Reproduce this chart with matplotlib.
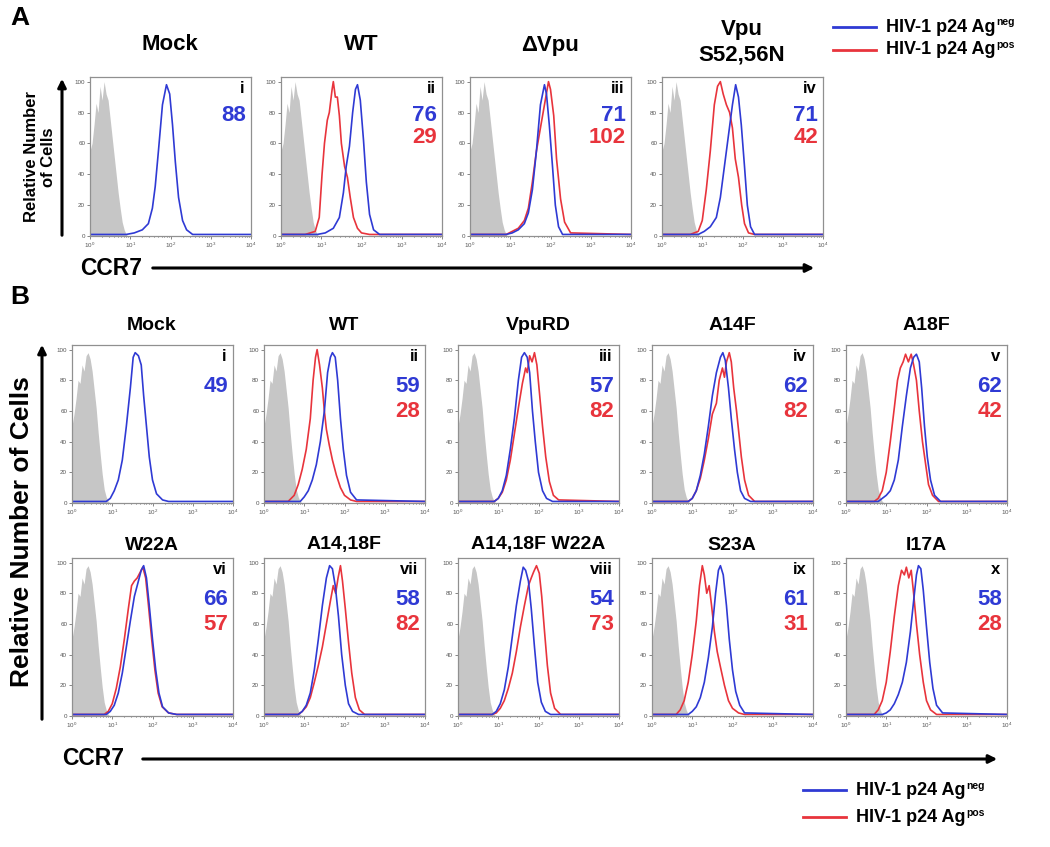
import numpy as np
import matplotlib
matplotlib.use('Agg')
from matplotlib import pyplot as plt
from matplotlib.lines import Line2D
from matplotlib.patches import FancyArrowPatch

plt.rcParams['font.family'] = ['Liberation Sans', 'DejaVu Sans']
plt.rcParams['mathtext.fontset'] = 'custom'
plt.rcParams['mathtext.rm'] = 'Liberation Sans'
plt.rcParams['mathtext.bf'] = 'Liberation Sans:bold'

BLUE = '#2f3ad4'
RED = '#e8343c'
GREY = '#c6c6c6'

# histogram curves: (log10 CCR7, relative number of cells)
ISO_A = [(0, 55), (0.05, 60), (0.1, 72), (0.15, 86), (0.2, 80), (0.25, 97), (0.3, 88), (0.35, 100), (0.4, 92),
         (0.45, 88), (0.5, 76), (0.55, 64), (0.6, 52), (0.65, 40), (0.7, 28), (0.75, 18), (0.8, 9), (0.85, 4),
         (0.9, 1), (0.95, 0)]
ISO_B = [(0, 50), (0.05, 58), (0.1, 68), (0.15, 80), (0.2, 78), (0.25, 90), (0.3, 86), (0.35, 96), (0.4, 98),
         (0.45, 94), (0.5, 86), (0.55, 74), (0.6, 62), (0.65, 46), (0.7, 32), (0.75, 19), (0.8, 9), (0.85, 4),
         (0.9, 1), (0.95, 0)]

A_MOCK_NEG = [(0, 1), (0.9, 1), (1.1, 2), (1.3, 4), (1.45, 8), (1.55, 18), (1.62, 32), (1.7, 55), (1.8, 85),
              (1.9, 98), (1.98, 92), (2.05, 72), (2.12, 48), (2.2, 25), (2.3, 10), (2.4, 4), (2.55, 1), (4, 1)]
A_WT_NEG = [(0, 1), (0.9, 1), (1.1, 2), (1.3, 5), (1.45, 12), (1.55, 28), (1.62, 45), (1.7, 58), (1.78, 80),
            (1.85, 95), (1.9, 98), (1.97, 88), (2.05, 62), (2.12, 35), (2.2, 14), (2.3, 4), (2.45, 1), (4, 1)]
A_WT_POS = [(0, 1), (0.6, 1), (0.85, 3), (0.95, 12), (1.02, 40), (1.08, 60), (1.15, 75), (1.2, 80), (1.27, 95),
            (1.3, 100), (1.35, 90), (1.4, 90), (1.45, 78), (1.5, 60), (1.58, 45), (1.65, 38), (1.72, 25),
            (1.8, 12), (1.9, 5), (2.0, 2), (2.2, 1), (4, 1)]
A_DVPU_NEG = [(0, 1), (0.9, 1), (1.05, 2), (1.2, 4), (1.35, 8), (1.45, 15), (1.55, 30), (1.65, 55), (1.75, 85),
              (1.85, 98), (1.9, 92), (1.97, 72), (2.05, 45), (2.12, 20), (2.2, 6), (2.3, 1), (4, 1)]
A_DVPU_POS = [(0, 1), (0.9, 1), (1.05, 3), (1.2, 5), (1.35, 10), (1.45, 18), (1.55, 35), (1.65, 55), (1.75, 70),
              (1.85, 85), (1.95, 100), (2.0, 95), (2.08, 78), (2.15, 50), (2.25, 24), (2.35, 9), (2.5, 2), (4, 1)]
A_S52_NEG = [(0, 1), (0.9, 1), (1.05, 3), (1.2, 6), (1.35, 12), (1.45, 25), (1.55, 45), (1.65, 65), (1.75, 85),
             (1.83, 98), (1.9, 90), (1.97, 72), (2.05, 45), (2.12, 20), (2.2, 6), (2.3, 1), (4, 1)]
A_S52_POS = [(0, 1), (0.7, 1), (0.9, 3), (1.0, 10), (1.1, 30), (1.2, 55), (1.3, 85), (1.38, 97), (1.45, 100),
             (1.52, 92), (1.6, 85), (1.68, 80), (1.75, 70), (1.82, 50), (1.9, 38), (1.98, 20), (2.05, 8),
             (2.15, 2), (2.3, 1), (4, 1)]

B_MOCK_NEG = [(0, 1), (0.85, 1), (0.95, 3), (1.05, 8), (1.15, 15), (1.25, 28), (1.35, 50), (1.45, 75), (1.52, 95),
              (1.57, 98), (1.65, 96), (1.72, 90), (1.78, 70), (1.85, 50), (1.92, 30), (2.0, 15), (2.1, 6),
              (2.25, 2), (2.4, 1), (4, 1)]
B_WT_NEG = [(0, 1), (0.9, 1), (1.0, 4), (1.1, 8), (1.2, 15), (1.3, 25), (1.4, 40), (1.5, 60), (1.58, 85),
            (1.65, 95), (1.7, 98), (1.77, 95), (1.83, 80), (1.9, 55), (1.97, 35), (2.05, 18), (2.15, 7),
            (2.3, 2), (4, 1)]
B_WT_POS = [(0, 1), (0.6, 1), (0.75, 5), (0.85, 12), (0.95, 22), (1.05, 35), (1.15, 55), (1.22, 80), (1.28, 95),
            (1.32, 100), (1.38, 90), (1.45, 75), (1.5, 60), (1.55, 48), (1.62, 38), (1.7, 28), (1.8, 18),
            (1.9, 10), (2.0, 5), (2.15, 2), (2.3, 1), (4, 1)]
B_VPURD_NEG = [(0, 1), (0.9, 1), (1.0, 3), (1.1, 8), (1.2, 18), (1.3, 35), (1.4, 55), (1.5, 80), (1.58, 95),
               (1.65, 98), (1.72, 95), (1.78, 85), (1.85, 60), (1.92, 40), (2.0, 20), (2.1, 8), (2.2, 3),
               (2.35, 1), (4, 1)]
B_VPURD_POS = [(0, 1), (0.9, 1), (1.0, 3), (1.1, 7), (1.2, 15), (1.3, 28), (1.4, 45), (1.5, 62), (1.6, 78),
               (1.68, 88), (1.72, 85), (1.78, 96), (1.84, 92), (1.9, 98), (1.96, 90), (2.03, 70), (2.1, 50),
               (2.18, 30), (2.27, 14), (2.37, 5), (2.5, 2), (4, 1)]
B_A14F_NEG = [(0, 1), (0.9, 1), (1.0, 3), (1.1, 8), (1.2, 18), (1.3, 32), (1.4, 50), (1.5, 70), (1.6, 85),
              (1.7, 95), (1.76, 98), (1.82, 93), (1.9, 75), (1.97, 55), (2.05, 35), (2.12, 20), (2.2, 8),
              (2.3, 3), (2.45, 1), (4, 1)]
B_A14F_POS = [(0, 1), (0.9, 1), (1.0, 3), (1.1, 8), (1.2, 16), (1.3, 28), (1.4, 42), (1.5, 58), (1.6, 65),
              (1.67, 80), (1.75, 88), (1.8, 82), (1.85, 92), (1.92, 98), (1.97, 92), (2.03, 75), (2.1, 60),
              (2.16, 45), (2.22, 30), (2.3, 15), (2.4, 5), (2.55, 1), (4, 1)]
B_A18F_NEG = [(0, 1), (0.8, 1), (0.9, 3), (1.0, 5), (1.1, 8), (1.2, 15), (1.3, 28), (1.4, 50), (1.5, 70),
              (1.6, 88), (1.68, 95), (1.75, 97), (1.82, 92), (1.88, 75), (1.95, 50), (2.02, 30), (2.1, 15),
              (2.2, 5), (2.35, 1), (4, 1)]
B_A18F_POS = [(0, 1), (0.7, 1), (0.8, 3), (0.9, 8), (1.0, 20), (1.1, 40), (1.2, 62), (1.28, 80), (1.35, 88),
              (1.42, 92), (1.48, 97), (1.55, 92), (1.62, 97), (1.68, 90), (1.75, 80), (1.82, 60), (1.9, 40),
              (1.98, 25), (2.05, 12), (2.15, 5), (2.3, 1), (4, 1)]
B_W22A_NEG = [(0, 1), (0.85, 1), (0.95, 3), (1.05, 7), (1.15, 15), (1.25, 28), (1.35, 45), (1.45, 62),
              (1.55, 78), (1.65, 88), (1.72, 95), (1.78, 98), (1.85, 90), (1.92, 72), (2.0, 50), (2.08, 30),
              (2.16, 15), (2.25, 6), (2.4, 2), (2.6, 1), (4, 1)]
B_W22A_POS = [(0, 1), (0.8, 1), (0.9, 3), (1.0, 8), (1.1, 18), (1.2, 32), (1.3, 50), (1.4, 70), (1.48, 85),
              (1.55, 88), (1.62, 90), (1.7, 94), (1.76, 97), (1.83, 90), (1.9, 72), (1.98, 50), (2.06, 30),
              (2.14, 15), (2.24, 6), (2.4, 2), (2.6, 1), (4, 1)]
B_A1418F_NEG = [(0, 1), (0.85, 1), (0.95, 3), (1.05, 7), (1.15, 15), (1.25, 30), (1.35, 50), (1.45, 72),
                (1.55, 90), (1.63, 98), (1.7, 96), (1.77, 85), (1.85, 65), (1.93, 40), (2.02, 20), (2.1, 8),
                (2.2, 3), (2.35, 1), (4, 1)]
B_A1418F_POS = [(0, 1), (0.85, 1), (0.95, 3), (1.05, 6), (1.15, 12), (1.25, 22), (1.35, 33), (1.45, 45),
                (1.55, 60), (1.65, 75), (1.72, 85), (1.78, 80), (1.84, 90), (1.9, 98), (1.95, 88), (2.02, 70),
                (2.1, 48), (2.18, 28), (2.27, 12), (2.37, 4), (2.5, 1), (4, 1)]
B_A1418W_NEG = [(0, 1), (0.85, 1), (0.95, 3), (1.05, 8), (1.15, 17), (1.25, 32), (1.35, 52), (1.45, 72),
                (1.55, 88), (1.62, 97), (1.68, 95), (1.75, 88), (1.82, 70), (1.9, 45), (1.98, 22), (2.07, 9),
                (2.17, 3), (2.3, 1), (4, 1)]
B_A1418W_POS = [(0, 1), (0.85, 1), (0.95, 2), (1.05, 5), (1.15, 10), (1.25, 18), (1.35, 28), (1.45, 42),
                (1.55, 58), (1.65, 72), (1.75, 85), (1.82, 90), (1.88, 94), (1.95, 98), (2.02, 93), (2.08, 78),
                (2.15, 55), (2.22, 33), (2.3, 15), (2.4, 5), (2.55, 1), (4, 1)]
B_S23A_NEG = [(0, 1), (0.9, 1), (1.0, 3), (1.1, 6), (1.2, 12), (1.3, 22), (1.4, 38), (1.5, 58), (1.58, 80),
              (1.65, 95), (1.7, 98), (1.77, 92), (1.85, 72), (1.92, 50), (2.0, 30), (2.08, 16), (2.18, 7),
              (2.3, 2), (4, 1)]
B_S23A_POS = [(0, 1), (0.6, 1), (0.7, 4), (0.8, 10), (0.9, 22), (1.0, 40), (1.1, 62), (1.18, 85), (1.25, 98),
              (1.3, 92), (1.36, 80), (1.42, 85), (1.48, 72), (1.55, 55), (1.62, 42), (1.7, 32), (1.8, 20),
              (1.9, 10), (2.0, 5), (2.15, 2), (2.3, 1), (4, 1)]
B_I17A_NEG = [(0, 1), (0.9, 1), (1.0, 2), (1.1, 4), (1.2, 8), (1.3, 14), (1.4, 22), (1.5, 35), (1.6, 55),
              (1.68, 75), (1.75, 92), (1.8, 98), (1.86, 96), (1.92, 82), (2.0, 58), (2.08, 35), (2.16, 18),
              (2.25, 7), (2.4, 2), (4, 1)]
B_I17A_POS = [(0, 1), (0.7, 1), (0.8, 4), (0.9, 10), (1.0, 22), (1.1, 42), (1.2, 65), (1.3, 85), (1.38, 95),
              (1.45, 92), (1.5, 97), (1.56, 90), (1.62, 95), (1.68, 80), (1.75, 60), (1.83, 40), (1.92, 22),
              (2.0, 10), (2.1, 4), (2.25, 1), (4, 1)]

TITLES_A = ['Mock', 'WT', '\u0394Vpu', 'Vpu\nS52,56N']
ROMAN_A = ['i', 'ii', 'iii', 'iv']
MFI_NEG_A = [88, 76, 71, 71]
MFI_POS_A = [None, 29, 102, 42]
NEG_A = [A_MOCK_NEG, A_WT_NEG, A_DVPU_NEG, A_S52_NEG]
POS_A = [None, A_WT_POS, A_DVPU_POS, A_S52_POS]

TITLES_B = ['Mock', 'WT', 'VpuRD', 'A14F', 'A18F', 'W22A', 'A14,18F', 'A14,18F W22A', 'S23A', 'I17A']
ROMAN_B = ['i', 'ii', 'iii', 'iv', 'v', 'vi', 'vii', 'viii', 'ix', 'x']
MFI_NEG_B = [49, 59, 57, 62, 62, 66, 58, 54, 61, 58]
MFI_POS_B = [None, 28, 82, 82, 42, 57, 82, 73, 31, 28]
NEG_B = [B_MOCK_NEG, B_WT_NEG, B_VPURD_NEG, B_A14F_NEG, B_A18F_NEG,
         B_W22A_NEG, B_A1418F_NEG, B_A1418W_NEG, B_S23A_NEG, B_I17A_NEG]
POS_B = [None, B_WT_POS, B_VPURD_POS, B_A14F_POS, B_A18F_POS,
         B_W22A_POS, B_A1418F_POS, B_A1418W_POS, B_S23A_POS, B_I17A_POS]

W, H = 1050, 847
fig = plt.figure(figsize=(10.5, 8.47), dpi=100)
renderer = fig.canvas.get_renderer()


def fx(p):
    return p / W


def fy(p):
    return 1 - p / H


def curve(pts):
    x, y = zip(*pts)
    return 10 ** np.array(x), np.array(y)


def panel(left, top, width, height, iso, neg, pos, roman, n_neg, n_pos, y_neg, y_pos):
    ax = fig.add_axes([fx(left), fy(top + height), width / W, height / H])
    x, y = curve(iso)
    ax.fill_between(x, y, color=GREY, lw=0)
    if pos is not None:
        x, y = curve(pos)
        ax.plot(x, y, color=RED, lw=1.2)
    x, y = curve(neg)
    ax.plot(x, y, color=BLUE, lw=1.2)
    ax.set_xscale('log')
    ax.set_xlim(1, 1e4)
    ax.set_ylim(0, 103)
    ax.set_xticks([1, 10, 100, 1000, 10000])
    ax.set_yticks([0, 20, 40, 60, 80, 100])
    ax.tick_params(labelsize=4.5, length=2, width=0.5, pad=1.5, colors='#555555')
    ax.tick_params(which='minor', length=1, width=0.4)
    for s in ax.spines.values():
        s.set_color('#909090')
        s.set_linewidth(0.9)
    ax.text(0.96, 0.975, roman, transform=ax.transAxes, ha='right', va='top', fontsize=12, fontweight='bold')
    ax.text(0.97, y_neg, str(n_neg), transform=ax.transAxes, ha='right', va='center',
            fontsize=16, fontweight='bold', color=BLUE)
    if n_pos is not None:
        ax.text(0.97, y_pos, str(n_pos), transform=ax.transAxes, ha='right', va='center',
                fontsize=16, fontweight='bold', color=RED)
    return ax


# panel A
lefts_a = [90, 281, 470, 662]
for i in range(4):
    panel(lefts_a[i], 77, 161, 159, ISO_A, NEG_A[i], POS_A[i], ROMAN_A[i], MFI_NEG_A[i], MFI_POS_A[i], 0.76, 0.62)
    ty = 42 if '\n' in TITLES_A[i] else 45
    fig.text(fx(lefts_a[i] + 80), fy(ty), TITLES_A[i], ha='center', va='center', fontsize=16,
             fontweight='bold', linespacing=1.3)

# panel B
lefts_b = [72, 264, 458, 652, 846]
tops_b = [345, 558]
title_y_b = [326, 545]
for i in range(10):
    r, c = divmod(i, 5)
    panel(lefts_b[c], tops_b[r], 161, 158, ISO_B, NEG_B[i], POS_B[i], ROMAN_B[i], MFI_NEG_B[i], MFI_POS_B[i],
          0.74, 0.58)
    fig.text(fx(lefts_b[c] + 80), fy(title_y_b[r]), TITLES_B[i], ha='center', va='center', fontsize=14,
             fontweight='bold')

# panel letters
fig.text(fx(10), fy(18), 'A', fontsize=19, fontweight='bold', va='center')
fig.text(fx(10), fy(297), 'B', fontsize=19, fontweight='bold', va='center')


def arrow(x0, y0, x1, y1, lw):
    fig.add_artist(FancyArrowPatch((fx(x0), fy(y0)), (fx(x1), fy(y1)), transform=fig.transFigure,
                                   arrowstyle='-|>', mutation_scale=12, lw=lw, color='black'))


# axis captions
fig.text(fx(80), fy(268), 'CCR7', fontsize=16.5, fontweight='bold', va='center')
arrow(150, 268, 817, 268, 2.2)
fig.text(fx(40), fy(157), 'Relative Number\nof Cells', fontsize=12, fontweight='bold', rotation=90,
         ha='center', va='center', linespacing=1.1)
arrow(62, 238, 62, 76, 2.2)

fig.text(fx(62), fy(758), 'CCR7', fontsize=16.5, fontweight='bold', va='center')
arrow(140, 759, 1000, 759, 2.2)
fig.text(fx(22), fy(532), 'Relative Number of Cells', fontsize=19, fontweight='bold', rotation=90,
         ha='center', va='center')
arrow(42, 722, 42, 342, 2.2)


def legend(x, y, dy):
    for k, (col, tag) in enumerate([(BLUE, 'neg'), (RED, 'pos')]):
        yy = y + k * dy
        fig.add_artist(Line2D([fx(x), fx(x + 43)], [fy(yy), fy(yy)], transform=fig.transFigure,
                              color=col, lw=2))
        t = fig.text(fx(x + 53), fy(yy), 'HIV-1 p24 Ag', fontsize=13, fontweight='bold', va='center')
        bb = t.get_window_extent(renderer)
        fig.text((bb.x1 + 1) / W, (bb.y1 + 1) / H, tag, fontsize=7.5, fontweight='bold', va='top')


legend(833, 27, 23)
legend(803, 790, 27)

fig.savefig('out.png', dpi=100)
